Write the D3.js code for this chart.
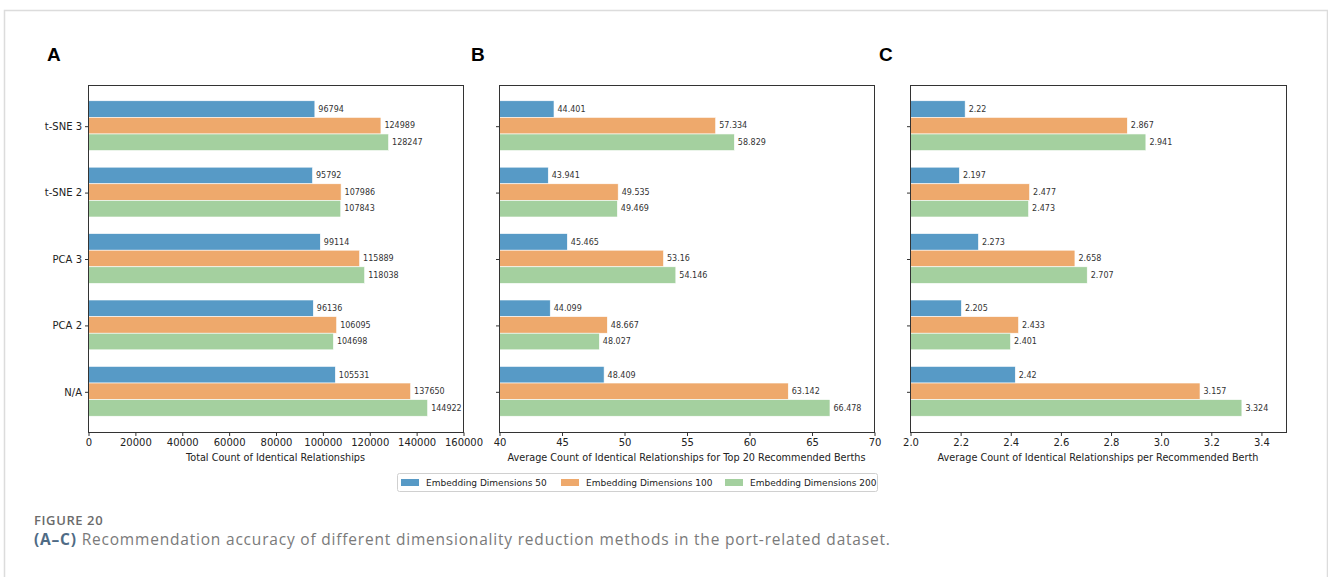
<!DOCTYPE html>
<html>
<head>
<meta charset="utf-8">
<script src="https://cdn.jsdelivr.net/npm/d3@7"></script>
<style>
  html, body { margin: 0; padding: 0; background: #fff; }
  svg { display: block; }
</style>
</head>
<body>
<svg id="fig" width="1328" height="577"></svg>
<script>
// Dimensionality reduction methods (index 0 is drawn at the bottom)
const categories = ["N/A", "PCA 2", "PCA 3", "t-SNE 2", "t-SNE 3"];
const seriesNames = ["Embedding Dimensions 50", "Embedding Dimensions 100", "Embedding Dimensions 200"];
const seriesColors = ["#579ac6", "#eea96c", "#a4d09f"];

// Panel A: total count of identical relationships
const totalDim50  = [105531, 96136, 99114, 95792, 96794];
const totalDim100 = [137650, 106095, 115889, 107986, 124989];
const totalDim200 = [144922, 104698, 118038, 107843, 128247];

// Panel B: average count for top-20 recommended berths
const top20Dim50  = [48.409, 44.099, 45.465, 43.941, 44.401];
const top20Dim100 = [63.142, 48.667, 53.16, 49.535, 57.334];
const top20Dim200 = [66.478, 48.027, 54.146, 49.469, 58.829];

// Panel C: average count per recommended berth
const berthDim50  = [2.42, 2.205, 2.273, 2.197, 2.22];
const berthDim100 = [3.157, 2.433, 2.658, 2.477, 2.867];
const berthDim200 = [3.324, 2.401, 2.707, 2.473, 2.941];

// Axis tick values
const ticksA = [0, 20000, 40000, 60000, 80000, 100000, 120000, 140000, 160000];
const ticksB = [40, 45, 50, 55, 60, 65, 70];
const ticksC = [2.0, 2.2, 2.4, 2.6, 2.8, 3.0, 3.2, 3.4];

const panels = [
  { letter: "A", left: 88,  right: 463,  domain: [0, 160000], ticks: ticksA, fmt: d => String(d),
    label: "Total Count of Identical Relationships", series: [totalDim50, totalDim100, totalDim200], showCats: true, letterX: 47 },
  { letter: "B", left: 499, right: 874,  domain: [40, 70], ticks: ticksB, fmt: d => String(d),
    label: "Average Count of Identical Relationships for Top 20 Recommended Berths", series: [top20Dim50, top20Dim100, top20Dim200], showCats: false, letterX: 471 },
  { letter: "C", left: 910, right: 1286, domain: [2.0, 3.5], ticks: ticksC, fmt: d3.format(".1f"),
    label: "Average Count of Identical Relationships per Recommended Berth", series: [berthDim50, berthDim100, berthDim200], showCats: false, letterX: 879 }
];

const svg = d3.select("#fig");
const FONT = "'DejaVu Sans', sans-serif";
const plotTop = 85, plotBottom = 432;
const barH = 0.25;

// Outer figure frame
svg.append("path")
  .attr("d", "M4.5,577 L4.5,10.5 L1327.5,10.5 L1327.5,577")
  .attr("fill", "none").attr("stroke", "#dcdcdc").attr("stroke-width", 1.5);

// Category scale: bars span -0.375..4.375 plus 5% margins
const y = d3.scaleLinear()
  .domain([-0.375 - 0.2375, categories.length - 1 + 0.375 + 0.2375])
  .range([plotBottom, plotTop]);

panels.forEach(p => {
  const x = d3.scaleLinear().domain(p.domain).range([p.left, p.right]);
  const g = svg.append("g");

  // Bars and value labels
  p.series.forEach((vals, si) => {
    const offset = (1 - si) * barH; // first series on top
    vals.forEach((v, ci) => {
      const yc = y(ci + offset);
      const y0 = y(ci + offset + barH / 2);
      const y1 = y(ci + offset - barH / 2);
      g.append("rect")
        .attr("x", x(p.domain[0]))
        .attr("y", y0)
        .attr("width", x(v) - x(p.domain[0]))
        .attr("height", y1 - y0)
        .attr("fill", seriesColors[si])
        .attr("stroke", "#ffffff").attr("stroke-width", 0.6);
      g.append("text")
        .attr("x", x(v) + 3.5)
        .attr("y", yc)
        .attr("dy", "0.35em")
        .attr("font-family", FONT).attr("font-size", 8)
        .attr("fill", "#333")
        .text(String(v));
    });
  });

  // Frame
  g.append("rect")
    .attr("x", p.left + 0.5).attr("y", plotTop + 0.5)
    .attr("width", p.right - p.left).attr("height", plotBottom - plotTop)
    .attr("fill", "none").attr("stroke", "#333").attr("stroke-width", 1);

  // X axis
  const xAxis = d3.axisBottom(x).tickValues(p.ticks).tickFormat(p.fmt).tickSize(3.5).tickPadding(3);
  const ax = g.append("g").attr("transform", `translate(0.5,${plotBottom + 0.5})`).call(xAxis);
  ax.select(".domain").remove();
  ax.selectAll("line").attr("stroke", "#333");
  ax.selectAll("text").attr("font-family", FONT).attr("font-size", 10).attr("fill", "#222");

  // Y axis (category ticks)
  const yAxis = d3.axisLeft(y).tickValues(d3.range(categories.length))
    .tickFormat(i => p.showCats ? categories[i] : "").tickSize(3.5).tickPadding(3);
  const ay = g.append("g").attr("transform", `translate(${p.left + 0.5},0.5)`).call(yAxis);
  ay.select(".domain").remove();
  ay.selectAll("line").attr("stroke", "#333");
  ay.selectAll("text").attr("font-family", FONT).attr("font-size", 10).attr("fill", "#222");

  // Axis title
  g.append("text")
    .attr("x", (p.left + p.right) / 2).attr("y", 461)
    .attr("text-anchor", "middle")
    .attr("font-family", FONT).attr("font-size", 9.7).attr("fill", "#222")
    .text(p.label);

  // Panel letter
  g.append("text")
    .attr("x", p.letterX).attr("y", 61)
    .attr("font-family", "'Liberation Sans', Arial, sans-serif")
    .attr("font-weight", "bold").attr("font-size", 19).attr("fill", "#000")
    .text(p.letter);
});

// Legend
const legend = svg.append("g");
legend.append("rect")
  .attr("x", 397.5).attr("y", 473.5).attr("width", 480).attr("height", 18)
  .attr("rx", 2).attr("fill", "#fff").attr("stroke", "#d0d0d0");
const legendX = [401, 561, 725];
seriesNames.forEach((name, i) => {
  legend.append("rect")
    .attr("x", legendX[i]).attr("y", 479).attr("width", 18).attr("height", 7)
    .attr("fill", seriesColors[i]);
  legend.append("text")
    .attr("x", legendX[i] + 25).attr("y", 482.5).attr("dy", "0.35em")
    .attr("font-family", FONT).attr("font-size", 9).attr("fill", "#222")
    .text(name);
});

// Caption
svg.append("text")
  .attr("x", 34).attr("y", 525)
  .attr("font-family", "'Open Sans', sans-serif").attr("font-weight", 600)
  .attr("font-size", 13).attr("letter-spacing", 0.6).attr("fill", "#6b6b6b")
  .text("FIGURE 20");
const cap = svg.append("text")
  .attr("x", 34).attr("y", 545)
  .attr("font-family", "'Open Sans', sans-serif")
  .attr("font-size", 15.5).attr("letter-spacing", 0.8).attr("fill", "#7a7a7a");
cap.append("tspan").attr("font-weight", 700).attr("fill", "#4f6b85").text("(A–C)");
cap.append("tspan").text(" Recommendation accuracy of different dimensionality reduction methods in the port-related dataset.");
</script>
</body>
</html>
